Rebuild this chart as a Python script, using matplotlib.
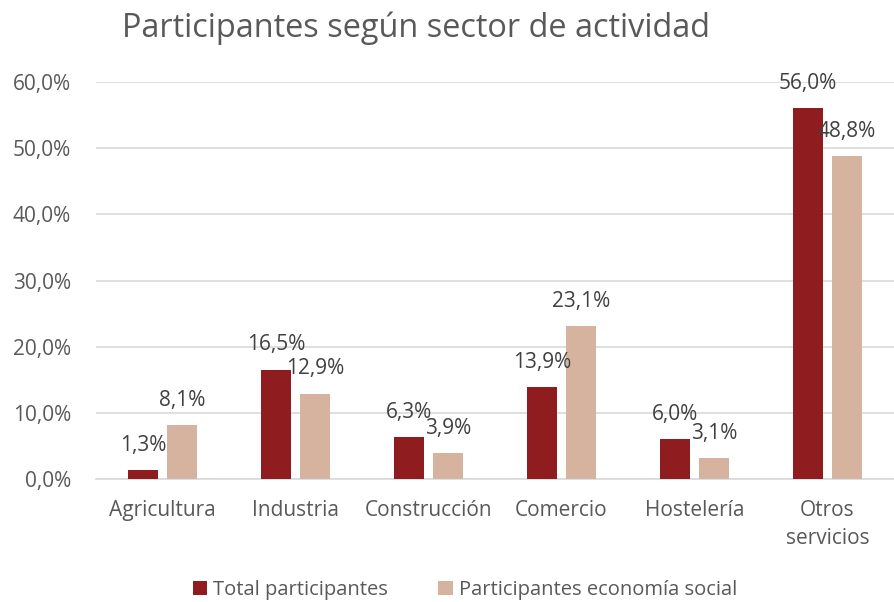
import matplotlib.pyplot as plt
import numpy as np

sectores = ["Agricultura", "Industria", "Construcción", "Comercio", "Hostelería", "Otros\nservicios"]
total_participantes = [1.3, 16.5, 6.3, 13.9, 6.0, 56.0]
economia_social = [8.1, 12.9, 3.9, 23.1, 3.1, 48.8]
y_ticks = [0, 10, 20, 30, 40, 50, 60]

plt.rcParams['font.family'] = ['Open Sans', 'DejaVu Sans']

c_total = '#8f1c1f'
c_social = '#d6b39f'
c_text = '#595959'

fig = plt.figure(figsize=(8.94, 6.02), dpi=100)
ax = fig.add_axes([96 / 894, 123 / 602, 1 - 96 / 894, 397 / 602])

x = np.arange(len(sectores))
w = 0.225
off = 0.146
b1 = ax.bar(x - off, total_participantes, w, color=c_total, label='Total participantes', zorder=3)
b2 = ax.bar(x + off, economia_social, w, color=c_social, label='Participantes economía social', zorder=3)

for bars, vals in [(b1, total_participantes), (b2, economia_social)]:
    for b, v in zip(bars, vals):
        ax.annotate(f"{v:.1f}%".replace('.', ','), (b.get_x() + b.get_width() / 2, v),
                    xytext=(0, 18), textcoords='offset points', ha='center', va='center',
                    fontsize=15, color='#404040', clip_on=False, zorder=4)

ax.set_xlim(-0.5, 5.5)
ax.set_ylim(0, 60)
ax.set_yticks(y_ticks)
ax.set_yticklabels([f"{t:.1f}%".replace('.', ',') for t in y_ticks])
ax.set_xticks(x)
ax.set_xticklabels(sectores, linespacing=1.45)
ax.tick_params(axis='both', length=0, labelsize=15, labelcolor=c_text)
ax.tick_params(axis='y', pad=18)
ax.tick_params(axis='x', pad=15)
ax.grid(axis='y', color='#d9d9d9', linewidth=1.2, zorder=0)
for s in ['top', 'right', 'left']:
    ax.spines[s].set_visible(False)
ax.spines['bottom'].set_color('#d9d9d9')
ax.spines['bottom'].set_linewidth(1.2)

fig.text(416 / 894, 1 - 28 / 602, "Participantes según sector de actividad", ha='center', va='center',
         fontsize=23.4, color=c_text)

fig.legend(loc='center', bbox_to_anchor=(465 / 894, 1 - 590 / 602), ncol=2, frameon=False,
           fontsize=14.5, labelcolor=c_text, handlelength=0.7, handleheight=0.7,
           handletextpad=0.3, columnspacing=2.5, borderpad=0.2)

plt.savefig('out.png', dpi=100)
plt.close()
